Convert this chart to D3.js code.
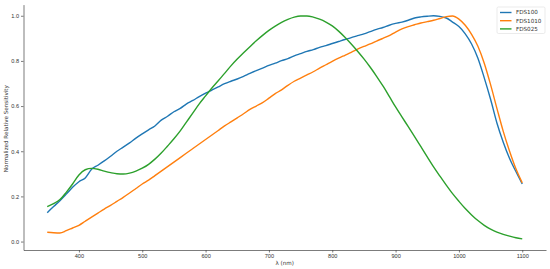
<!DOCTYPE html>
<html>
<head>
<meta charset="utf-8">
<script src="https://cdn.jsdelivr.net/npm/d3@7"></script>
<style>
  body { margin: 0; background: #fff; }
  svg { display: block; font-family: "DejaVu Sans", sans-serif; }
  .axis text { fill: #333; font-size: 5.6px; }
  .axis path, .axis line { stroke: #444; stroke-width: 0.7; }
  .label { fill: #333; font-size: 5.6px; }
</style>
</head>
<body>
<svg id="viz"></svg>
<script>
let width = 550;
let height = 269;

// wavelengths (nm) shared by all three series
let wavelength = d3.range(350, 1101, 10);

let fds100 = [
  0.128, 0.155, 0.181, 0.210, 0.240, 0.265, 0.282, 0.320, 0.338, 0.357,
  0.378, 0.400, 0.418, 0.437, 0.458, 0.477, 0.495, 0.512, 0.538, 0.555,
  0.575, 0.590, 0.610, 0.625, 0.642, 0.657, 0.671, 0.685, 0.699, 0.710,
  0.720, 0.732, 0.745, 0.757, 0.768, 0.780, 0.790, 0.801, 0.810, 0.822,
  0.832, 0.842, 0.850, 0.860, 0.868, 0.877, 0.886, 0.895, 0.903, 0.912,
  0.920, 0.930, 0.940, 0.948, 0.958, 0.966, 0.972, 0.980, 0.990, 0.995,
  0.998, 1.000, 0.997, 0.990, 0.972, 0.952, 0.920, 0.875, 0.812, 0.725,
  0.630, 0.525, 0.440, 0.368, 0.310, 0.255
];

let fds1010 = [
  0.041, 0.039, 0.038, 0.048, 0.060, 0.072, 0.090, 0.108, 0.126, 0.144,
  0.160, 0.178, 0.196, 0.215, 0.235, 0.255, 0.272, 0.292, 0.312, 0.332,
  0.352, 0.372, 0.392, 0.412, 0.432, 0.452, 0.472, 0.492, 0.512, 0.530,
  0.548, 0.566, 0.585, 0.600, 0.615, 0.635, 0.655, 0.672, 0.692, 0.710,
  0.724, 0.738, 0.752, 0.768, 0.783, 0.798, 0.812, 0.825, 0.838, 0.852,
  0.864, 0.875, 0.888, 0.900, 0.912, 0.928, 0.942, 0.952, 0.960, 0.968,
  0.974, 0.980, 0.988, 0.996, 0.999, 0.985, 0.958, 0.918, 0.865, 0.790,
  0.695, 0.590, 0.488, 0.400, 0.322, 0.260
];

let fds025 = [
  0.155, 0.168, 0.186, 0.218, 0.255, 0.295, 0.318, 0.324, 0.320, 0.312,
  0.305, 0.300, 0.299, 0.303, 0.312, 0.325, 0.342, 0.365, 0.392, 0.423,
  0.455, 0.490, 0.530, 0.570, 0.610, 0.645, 0.680, 0.712, 0.745, 0.778,
  0.808, 0.836, 0.863, 0.889, 0.913, 0.935, 0.954, 0.971, 0.984, 0.994,
  0.999, 0.999, 0.994, 0.985, 0.972, 0.955, 0.932, 0.905, 0.875, 0.843,
  0.809, 0.772, 0.732, 0.689, 0.643, 0.596, 0.552, 0.509, 0.465, 0.420,
  0.375, 0.331, 0.290, 0.250, 0.212, 0.178, 0.146, 0.118, 0.093, 0.072,
  0.055, 0.042, 0.032, 0.024, 0.017, 0.012
];

let seriesNames = ["FDS100", "FDS1010", "FDS025"];
let seriesColors = ["#1f77b4", "#ff7f0e", "#2ca02c"];
let xTicks = [400, 500, 600, 700, 800, 900, 1000, 1100];
let yTicks = [0.0, 0.2, 0.4, 0.6, 0.8, 1.0];

let series = [fds100, fds1010, fds025].map((vals, i) => ({
  name: seriesNames[i],
  color: seriesColors[i],
  points: vals.map((v, j) => ({ x: wavelength[j], y: v }))
}));

// matplotlib style 5% margins around the data
function padded(ext) {
  let pad = (ext[1] - ext[0]) * 0.05;
  return [ext[0] - pad, ext[1] + pad];
}
let allY = fds100.concat(fds1010, fds025);

let x = d3.scaleLinear()
  .domain(padded(d3.extent(wavelength)))
  .range([23.5, 546]);
let y = d3.scaleLinear()
  .domain(padded(d3.extent(allY)))
  .range([250, 4.6]);

let svg = d3.select("#viz")
  .attr("width", width)
  .attr("height", height);

svg.append("g")
  .attr("class", "axis")
  .attr("transform", "translate(0,250)")
  .call(d3.axisBottom(x).tickValues(xTicks).tickFormat(d3.format("d")).tickSize(2.5).tickSizeOuter(0).tickPadding(2));

svg.append("g")
  .attr("class", "axis")
  .attr("transform", "translate(23.5,0)")
  .call(d3.axisLeft(y).tickValues(yTicks).tickFormat(d3.format(".1f")).tickSize(2.5).tickSizeOuter(0).tickPadding(2));

svg.append("text")
  .attr("class", "label")
  .attr("x", x(725))
  .attr("y", 265)
  .attr("text-anchor", "middle")
  .text("λ (nm)");

svg.append("text")
  .attr("class", "label")
  .attr("transform", "translate(7.5," + y(0.5) + ") rotate(-90)")
  .attr("text-anchor", "middle")
  .text("Normalized Relative Sensitivity");

let line = d3.line()
  .x(d => x(d.x))
  .y(d => y(d.y))
  .curve(d3.curveMonotoneX);

svg.selectAll("path.series")
  .data(series)
  .enter().append("path")
  .attr("class", "series")
  .attr("d", d => line(d.points))
  .attr("fill", "none")
  .attr("stroke", d => d.color)
  .attr("stroke-width", 1.4)
  .attr("stroke-linejoin", "round");

// legend
let legend = svg.append("g").attr("transform", "translate(497,7)");
legend.append("rect")
  .attr("width", 48)
  .attr("height", 26.5)
  .attr("rx", 1.5)
  .attr("fill", "#fff")
  .attr("fill-opacity", 0.8)
  .attr("stroke", "#ddd")
  .attr("stroke-width", 0.6);

let items = legend.selectAll("g.item")
  .data(series)
  .enter().append("g")
  .attr("class", "item")
  .attr("transform", (d, i) => "translate(0," + (5.5 + i * 8.2) + ")");
items.append("line")
  .attr("x1", 3).attr("x2", 14.5)
  .attr("stroke", d => d.color)
  .attr("stroke-width", 1.4);
items.append("text")
  .attr("class", "label")
  .attr("x", 19)
  .attr("dy", "0.35em")
  .text(d => d.name);
</script>
</body>
</html>
